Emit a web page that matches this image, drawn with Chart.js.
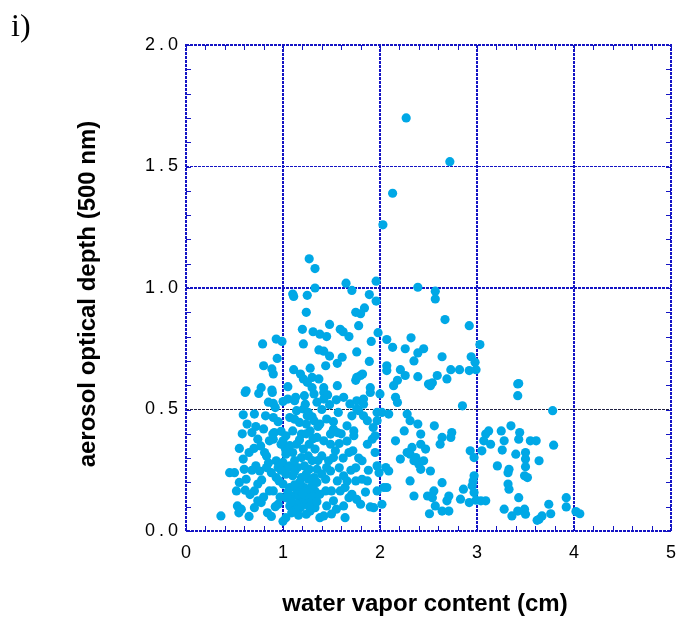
<!DOCTYPE html>
<html><head><meta charset="utf-8">
<script src="https://cdn.jsdelivr.net/npm/chart.js@4.4.1/dist/chart.umd.min.js"></script>
<style>html,body{margin:0;padding:0;background:#fff;}</style>
</head><body>
<canvas id="c" width="678" height="619"></canvas>
<script>
const waterVapor = [
2.27,2.72,2.13,2.03,1.27,1.33,1.33,1.65,1.71,1.10,1.11,1.25,1.24,1.75,1.48,1.20,1.31,1.38,1.45,1.59,1.62,1.68,0.79,0.93,0.99,1.21,1.37,1.42,1.48,1.61,1.56,0.94,0.80,0.885,0.90,1.11,1.18,1.28,1.30,1.44,1.21,1.25,1.37,1.05,0.775,0.885,0.62,1.42,1.56,1.75,1.30,
1.96,1.89,1.96,2.39,2.57,2.57,1.84,1.80,1.78,2.67,2.92,1.98,1.91,2.07,2.32,2.13,2.26,2.39,2.45,2.35,2.64,2.94,2.98,1.76,1.89,2.07,2.07,2.21,2.26,2.73,2.82,2.92,2.99,2.39,2.59,2.54,2.52,2.69,2.18,2.14,1.80,1.90,3.03,3.43,1.76,1.82,2.50,
0.61,0.75,0.89,0.90,0.92,1.00,1.05,1.12,1.22,0.59,0.705,0.82,0.90,0.63,0.68,0.74,0.91,0.90,0.98,0.81,0.83,0.65,0.59,0.45,0.50,0.60,0.62,0.72,0.76,0.83,0.74,0.705,0.52,0.61,0.74,0.775,0.705,0.53,0.57,0.545,0.36,0.84,0.86,0.90,0.93,0.96,0.93,0.95,0.86,0.895,0.98,1.02,1.03,1.03,1.00,1.24,1.22,1.17,
1.14,1.21,1.26,1.07,1.17,1.24,1.10,1.19,1.03,1.00,1.07,1.14,1.21,1.27,1.03,1.10,1.19,1.26,1.00,1.07,1.15,1.22,1.27,1.03,1.10,1.19,1.26,1.00,1.07,1.14,1.22,1.27,1.03,1.10,1.19,1.24,1.07,1.14,1.25,1.32,1.38,1.45,1.28,1.35,1.42,1.49,1.33,1.40,1.47,1.35,1.40,1.32,1.18,1.33,1.38,1.26,1.18,1.28,1.33,1.45,1.52,1.50,1.56,1.32,1.42,1.42,1.23,1.13,1.52,1.49,1.52,1.54,1.45,1.49,1.44,1.44,1.28,1.42,1.38,1.64,1.625,
1.625,1.69,1.76,1.83,1.90,2.00,2.16,2.18,1.57,1.71,1.78,1.83,1.87,1.97,2.02,2.09,2.28,2.31,1.66,1.73,1.73,1.56,1.87,1.92,1.95,2.16,2.25,2.42,1.68,1.815,1.97,1.99,2.09,2.21,2.31,2.37,2.40,1.625,1.66,1.75,1.815,1.87,2.07,1.97,2.31,2.35,1.59,1.64,1.71,1.68,1.80,1.90,1.935,2.02,2.06,1.97,1.93,1.95,2.04,2.28,2.33,2.35,1.76,1.83,2.39,
3.42,2.85,2.56,2.42,2.64,2.62,2.74,2.73,2.47,2.45,2.42,2.52,2.64,2.93,2.97,3.05,3.09,3.12,3.07,3.14,3.25,3.28,3.26,3.35,3.44,3.43,3.55,3.61,3.40,3.50,3.50,3.50,3.64,3.21,3.33,3.32,3.49,3.52,2.97,2.96,2.95,2.97,2.86,2.83,2.92,2.99,3.04,3.09,2.555,2.49,2.54,2.71,2.69,2.57,2.64,2.71,2.51,3.32,3.33,3.43,3.28,3.36,3.42,3.49,3.50,3.64,3.67,3.42,3.78,3.79,3.74,3.76,3.62,3.92,3.92,4.02,4.06,
1.05,1.12,1.17,1.24,1.30,1.05,1.12,1.16,1.30,1.35,1.08,1.13,1.20,1.31,1.16,1.09,1.27,1.35,0.98,0.97,0.95,1.30,1.36,1.12,1.17,1.31,1.24,1.36,1.30,1.12,1.40,1.48,1.35,1.46,1.55,1.52,1.58,1.62,1.60,1.66,1.72,1.78,1.75,1.70,1.88,1.85,1.76,1.58,1.55,1.50,
0.55,0.66,0.68,0.78,0.88,0.85,0.80,0.65,0.92,0.88,0.70,0.77,0.55,0.72,0.80,0.95,0.85,0.58
];
const aod = [
1.70,1.52,1.39,1.26,1.12,1.08,1.00,1.02,0.99,0.975,0.965,0.97,0.90,0.90,0.85,0.83,0.82,0.81,0.80,0.83,0.82,0.80,0.77,0.79,0.78,0.77,0.745,0.74,0.72,0.715,0.69,0.71,0.68,0.667,0.646,0.664,0.646,0.67,0.632,0.68,0.626,0.612,0.626,0.594,0.59,0.58,0.577,0.59,0.598,0.62,0.59,
1.028,0.973,0.946,1.003,0.987,0.955,0.918,0.894,0.845,0.87,0.845,0.816,0.78,0.788,0.795,0.756,0.75,0.733,0.75,0.70,0.717,0.717,0.694,0.737,0.698,0.68,0.66,0.664,0.64,0.664,0.664,0.66,0.664,0.635,0.64,0.61,0.598,0.626,0.62,0.598,0.64,0.59,0.767,0.607,0.632,0.646,0.605,
0.57,0.566,0.57,0.525,0.508,0.533,0.543,0.536,0.557,0.478,0.481,0.474,0.467,0.44,0.405,0.378,0.405,0.378,0.41,0.323,0.309,0.323,0.296,0.24,0.24,0.254,0.213,0.268,0.247,0.261,0.193,0.165,0.165,0.168,0.124,0.117,0.096,0.103,0.09,0.075,0.062,0.075,0.165,0.165,0.22,0.206,0.289,0.261,0.371,0.399,0.357,0.344,0.33,0.055,0.04,0.069,0.11,0.124,
0.495,0.502,0.488,0.467,0.447,0.44,0.412,0.399,0.392,0.371,0.351,0.357,0.337,0.357,0.316,0.323,0.302,0.309,0.282,0.268,0.261,0.268,0.254,0.234,0.227,0.22,0.213,0.193,0.179,0.172,0.179,0.165,0.137,0.144,0.131,0.124,0.103,0.11,0.474,0.454,0.44,0.461,0.412,0.385,0.371,0.357,0.337,0.309,0.289,0.254,0.234,0.22,0.193,0.165,0.151,0.137,0.096,0.082,0.096,0.103,0.124,0.165,0.206,0.564,0.57,0.543,0.522,0.55,0.419,0.399,0.302,0.33,0.261,0.247,0.165,0.213,0.117,0.062,0.055,0.055,0.103,
0.55,0.523,0.536,0.543,0.57,0.564,0.55,0.529,0.488,0.474,0.495,0.474,0.454,0.488,0.488,0.481,0.481,0.454,0.433,0.412,0.392,0.405,0.357,0.378,0.392,0.371,0.412,0.399,0.323,0.289,0.268,0.24,0.247,0.296,0.316,0.302,0.275,0.227,0.206,0.206,0.213,0.206,0.179,0.165,0.206,0.144,0.165,0.179,0.151,0.137,0.11,0.099,0.096,0.11,0.261,0.454,0.426,0.323,0.179,0.323,0.344,0.289,0.502,0.522,0.44,
0.557,0.515,0.433,0.357,0.385,0.357,0.405,0.385,0.337,0.289,0.254,0.247,0.199,0.33,0.302,0.33,0.399,0.412,0.371,0.357,0.412,0.371,0.333,0.433,0.405,0.378,0.371,0.371,0.316,0.323,0.296,0.264,0.289,0.268,0.254,0.24,0.227,0.22,0.227,0.206,0.186,0.158,0.172,0.131,0.117,0.127,0.124,0.124,0.165,0.144,0.137,0.144,0.124,0.103,0.082,0.082,0.071,0.193,0.172,0.137,0.09,0.062,0.082,0.09,0.069,0.048,0.062,0.605,0.495,0.353,0.11,0.071,0.044,0.137,0.099,0.08,0.071,
0.26,0.245,0.20,0.235,0.21,0.16,0.19,0.15,0.185,0.20,0.12,0.085,0.155,0.14,0.065,0.075,0.10,0.12,0.25,0.14,0.11,0.29,0.29,0.29,0.375,0.38,0.40,0.43,0.47,0.46,0.50,0.52,0.53,0.56,0.54,0.45,0.36,0.30,0.40,0.37,0.33,0.30,0.26,0.25,0.25,0.16,0.13,0.26,0.09,0.07,
0.20,0.15,0.25,0.21,0.24,0.28,0.14,0.06,0.10,0.06,0.34,0.35,0.34,0.43,0.42,0.45,0.53,0.40
];
const xTickLabels = ['0','1','2','3','4','5'];
const yTickLabels = ['0.0','0.5','1.0','1.5','2.0'];
const xTitle = 'water vapor content (cm)';
const yTitle = 'aerosol optical depth (500 nm)';
const panelLabel = 'i)';

const points = waterVapor.map((x, i) => ({x: x, y: aod[i]}));
const BLUE = '#1414c4';

const decor = {
  id: 'decor',
  beforeDraw(chart) { chart.ctx.letterSpacing = '4px'; },
  afterDraw(chart) {
    const ctx = chart.ctx, a = chart.chartArea, xs = chart.scales.x, ys = chart.scales.y;
    ctx.save();
    ctx.letterSpacing = '0px';
    ctx.strokeStyle = BLUE;
    ctx.lineWidth = 1;
    ctx.setLineDash([]);
    ctx.beginPath();
    for (let i = 0; i <= 25; i++) {
      const px = Math.round(xs.getPixelForValue(i * 0.2)) + 0.5;
      ctx.moveTo(px, a.bottom); ctx.lineTo(px, a.bottom - 5);
      ctx.moveTo(px, a.top); ctx.lineTo(px, a.top + 5);
    }
    for (let i = 0; i <= 20; i++) {
      const py = Math.round(ys.getPixelForValue(i * 0.1)) + 0.5;
      ctx.moveTo(a.left, py); ctx.lineTo(a.left + 5, py);
      ctx.moveTo(a.right, py); ctx.lineTo(a.right - 5, py);
    }
    ctx.stroke();
    ctx.lineWidth = 2;
    ctx.setLineDash([3, 1]);
    ctx.strokeRect(a.left, a.top, a.right - a.left, a.bottom - a.top);
    ctx.setLineDash([]);
    ctx.fillStyle = '#000';
    ctx.font = 'bold 24px "Liberation Sans", Arial, sans-serif';
    ctx.textAlign = 'center';
    ctx.textBaseline = 'middle';
    ctx.fillText(xTitle, 425, 604);
    ctx.save();
    ctx.translate(88, 294);
    ctx.rotate(-Math.PI / 2);
    ctx.fillText(yTitle, 0, 0);
    ctx.restore();
    ctx.font = '32px "Liberation Serif", "Times New Roman", serif';
    ctx.textAlign = 'left';
    ctx.textBaseline = 'alphabetic';
    ctx.fillText(panelLabel, 11, 36);
    ctx.restore();
  }
};

new Chart(document.getElementById('c'), {
  type: 'scatter',
  data: { datasets: [{ data: points, backgroundColor: '#00a8e6', borderWidth: 0, pointRadius: 4.6, pointHoverRadius: 4.6 }] },
  options: {
    responsive: false, animation: false,
    devicePixelRatio: 1,
    layout: { padding: { left: 0, right: 7, top: 45, bottom: 0 } },
    plugins: { legend: { display: false }, tooltip: { enabled: false }, title: { display: false } },
    scales: {
      x: {
        type: 'linear', min: 0, max: 5,
        afterFit(s) { s.height = 88; s.paddingLeft = 0; s.paddingRight = 0; },
        ticks: { stepSize: 1, padding: 11, labelOffset: 2, color: '#000', font: { family: '"Liberation Sans", Arial, sans-serif', size: 18 },
          callback: (v) => xTickLabels[Math.round(v)] },
        grid: { drawTicks: false, color: (c) => (c.tick.value > 0 && c.tick.value < 5) ? BLUE : 'rgba(0,0,0,0)', lineWidth: 2 },
        border: { display: false, dash: [3, 1] }
      },
      y: {
        type: 'linear', min: 0, max: 2,
        afterFit(s) { s.width = 186; s.paddingTop = 0; s.paddingBottom = 0; },
        ticks: { stepSize: 0.5, padding: 4, color: '#000', font: { family: '"Liberation Sans", Arial, sans-serif', size: 18 },
          callback: (v) => yTickLabels[Math.round(v * 2)] },
        grid: { drawTicks: false,
          color: (c) => (c.tick.value > 0 && c.tick.value < 2) ? (c.tick.value === 0.5 ? '#202040' : BLUE) : 'rgba(0,0,0,0)',
          lineWidth: (c) => c.tick.value === 1 ? 2 : 1 },
        border: { display: false, dash: [3, 1] }
      }
    }
  },
  plugins: [decor]
});
</script>
</body></html>
